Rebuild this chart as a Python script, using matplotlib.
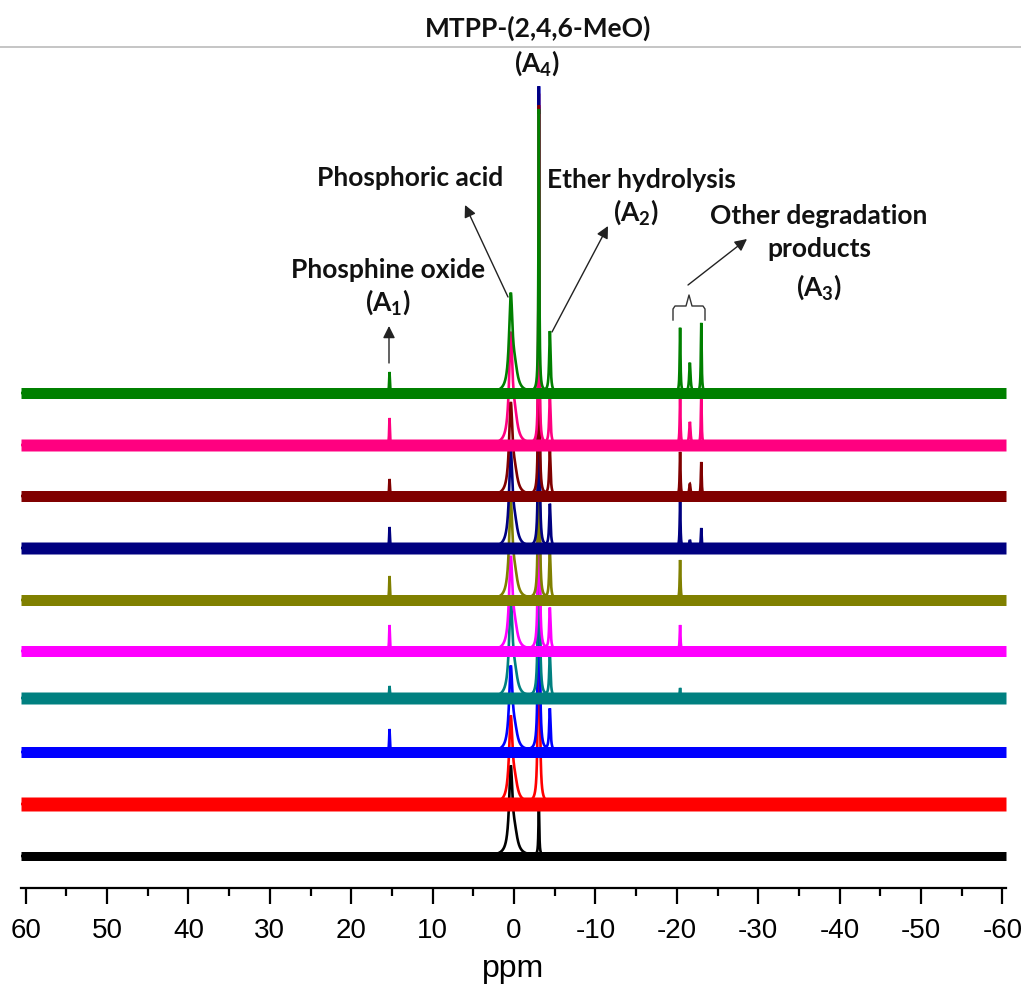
import numpy as np
import matplotlib
matplotlib.use("Agg")
import matplotlib.pyplot as plt
from matplotlib.lines import Line2D
from matplotlib.ticker import FixedLocator, MultipleLocator

# ---------------- data ----------------
# traces listed bottom -> top
trace_colors = ["#000000", "#FF0000", "#0000FF", "#008080", "#FF00FF",
                "#808000", "#000080", "#800000", "#FF0080", "#008000"]
offsets = [32, 84, 136, 190, 237, 288, 340, 392, 443, 495]      # stacking offsets (a.u.)
noise_band = [9, 14, 11, 12, 11, 11, 12, 11, 12, 11]             # baseline noise band (a.u.)

# peak positions (ppm)
ppm_phosphine_oxide = 15.3
ppm_phosphoric_acid = 0.4
ppm_A4 = -3.05
ppm_ether = -4.4
ppm_degradation = [-20.4, -21.6, -23.0]

# peak heights per trace (a.u.), bottom -> top
h_phosphine_oxide = [0, 0, 23, 12, 26, 24, 21, 17, 27, 21]
h_phosphoric_acid = [84, 82, 80, 92, 88, 92, 90, 87, 104, 93]
h_A4 = [51, 710, 665, 590, 545, 490, 461, 390, 330, 283]
h_ether = [0, 0, 42, 42, 42, 48, 43, 45, 48, 61]
h_deg1 = [0, 0, 0, 10, 26, 40, 47, 44, 47, 65]
h_deg2 = [0, 0, 0, 0, 0, 0, 8, 12, 23, 30]
h_deg3 = [0, 0, 0, 0, 0, 0, 20, 34, 50, 70]

tick_values = [60, 50, 40, 30, 20, 10, 0, -10, -20, -30, -40, -50, -60]
tick_labels = ["60", "50", "40", "30", "20", "10", "0", "-10", "-20", "-30", "-40", "-50", "-60"]
x_label = "ppm"
title = "MTPP-(2,4,6-MeO)"

# ---------------- drawing ----------------
plt.rcParams["axes.unicode_minus"] = False
plt.rcParams["mathtext.fontset"] = "custom"
plt.rcParams["mathtext.rm"] = "Lato:bold"
plt.rcParams["mathtext.it"] = "Lato:bold"
plt.rcParams["mathtext.bf"] = "Lato:bold"
W, H = 1021, 984
fig = plt.figure(figsize=(W / 100, H / 100), dpi=100)
ax = fig.add_axes([21 / W, 96 / H, 985 / W, 841 / H])
XMIN, XMAX = 60.57, -60.44
ax.set_xlim(XMIN, XMAX)
ax.set_ylim(0, 841)

x = np.linspace(XMIN, XMAX, 14000)


def lor(x0, h, w):
    g = w / 2.0
    return h * g * g / ((x - x0) ** 2 + g * g)


for i, c in enumerate(trace_colors):
    b = offsets[i]
    y = np.full_like(x, float(b))
    y += lor(ppm_phosphoric_acid, h_phosphoric_acid[i], 0.5)
    y += lor(ppm_phosphoric_acid - 0.5, 0.2 * h_phosphoric_acid[i], 0.8)
    y += lor(ppm_A4, h_A4[i], 0.12)
    y += lor(ppm_ether, h_ether[i], 0.2)
    y += lor(ppm_phosphine_oxide, h_phosphine_oxide[i], 0.1)
    y += lor(ppm_degradation[0], h_deg1[i], 0.12)
    y += lor(ppm_degradation[1], h_deg2[i], 0.2)
    y += lor(ppm_degradation[2], h_deg3[i], 0.12)
    n = noise_band[i] / 2.0
    ax.fill_between(x, b - n, b + n, color=c, lw=0, zorder=2 + i)
    ax.plot(x, y, color=c, lw=1.9, zorder=2 + i, solid_joinstyle="miter")

for s in ["top", "left", "right"]:
    ax.spines[s].set_visible(False)
ax.spines["bottom"].set_linewidth(1.6)
ax.set_yticks([])
ax.xaxis.set_major_locator(FixedLocator(tick_values))
ax.set_xticklabels(tick_labels, fontsize=20, fontfamily="Liberation Sans")
ax.xaxis.set_minor_locator(MultipleLocator(5))
ax.tick_params(axis="x", which="major", direction="out", length=11.5, width=1.6, pad=10)
ax.tick_params(axis="x", which="minor", direction="out", length=6, width=1.6)
ax.set_xlabel(x_label, fontsize=23, fontfamily="Liberation Sans", labelpad=7)
ax.patch.set_alpha(0)

# ---------------- annotations (figure pixel layout) ----------------
def P(px, py):
    return (px / W, 1 - py / H)

tf = dict(fontfamily="Lato", fontweight="bold", fontsize=19, ha="center", va="center",
          color="#111111")

fig.add_artist(Line2D([0, 1], [1 - 47 / H, 1 - 47 / H], color="#c0c0c0", lw=1.3))
fig.text(*P(538, 28), title, **tf)
fig.text(*P(537, 63), "(A$_4$)", **tf)
fig.text(*P(410, 178), "Phosphoric acid", **tf)
fig.text(*P(641, 180), "Ether hydrolysis", **tf)
fig.text(*P(636, 212), "(A$_2$)", **tf)
fig.text(*P(819, 216), "Other degradation", **tf)
fig.text(*P(819, 249), "products", **tf)
fig.text(*P(819, 287), "(A$_3$)", **tf)
fig.text(*P(388, 270), "Phosphine oxide", **tf)
fig.text(*P(388, 302), "(A$_1$)", **tf)

arrows = [((389, 363), (389, 326)),
          ((508, 297), (465, 205)),
          ((552, 332), (608, 226)),
          ((688, 285), (747, 239))]
for (t, h) in arrows:
    fig.add_artist(matplotlib.patches.FancyArrowPatch(
        P(*t), P(*h), transform=fig.transFigure, arrowstyle="-|>",
        mutation_scale=18, lw=1.0, color="#222222", shrinkA=0, shrinkB=0))

# curly brace over the degradation peaks
bx = [673, 673, 675, 686, 689, 692, 703, 705, 705]
by = [320, 309, 306, 306, 295, 306, 306, 309, 320]
fig.add_artist(Line2D([v / W for v in bx], [1 - v / H for v in by], color="#333333", lw=1.0))

fig.savefig("out.png", dpi=100)
